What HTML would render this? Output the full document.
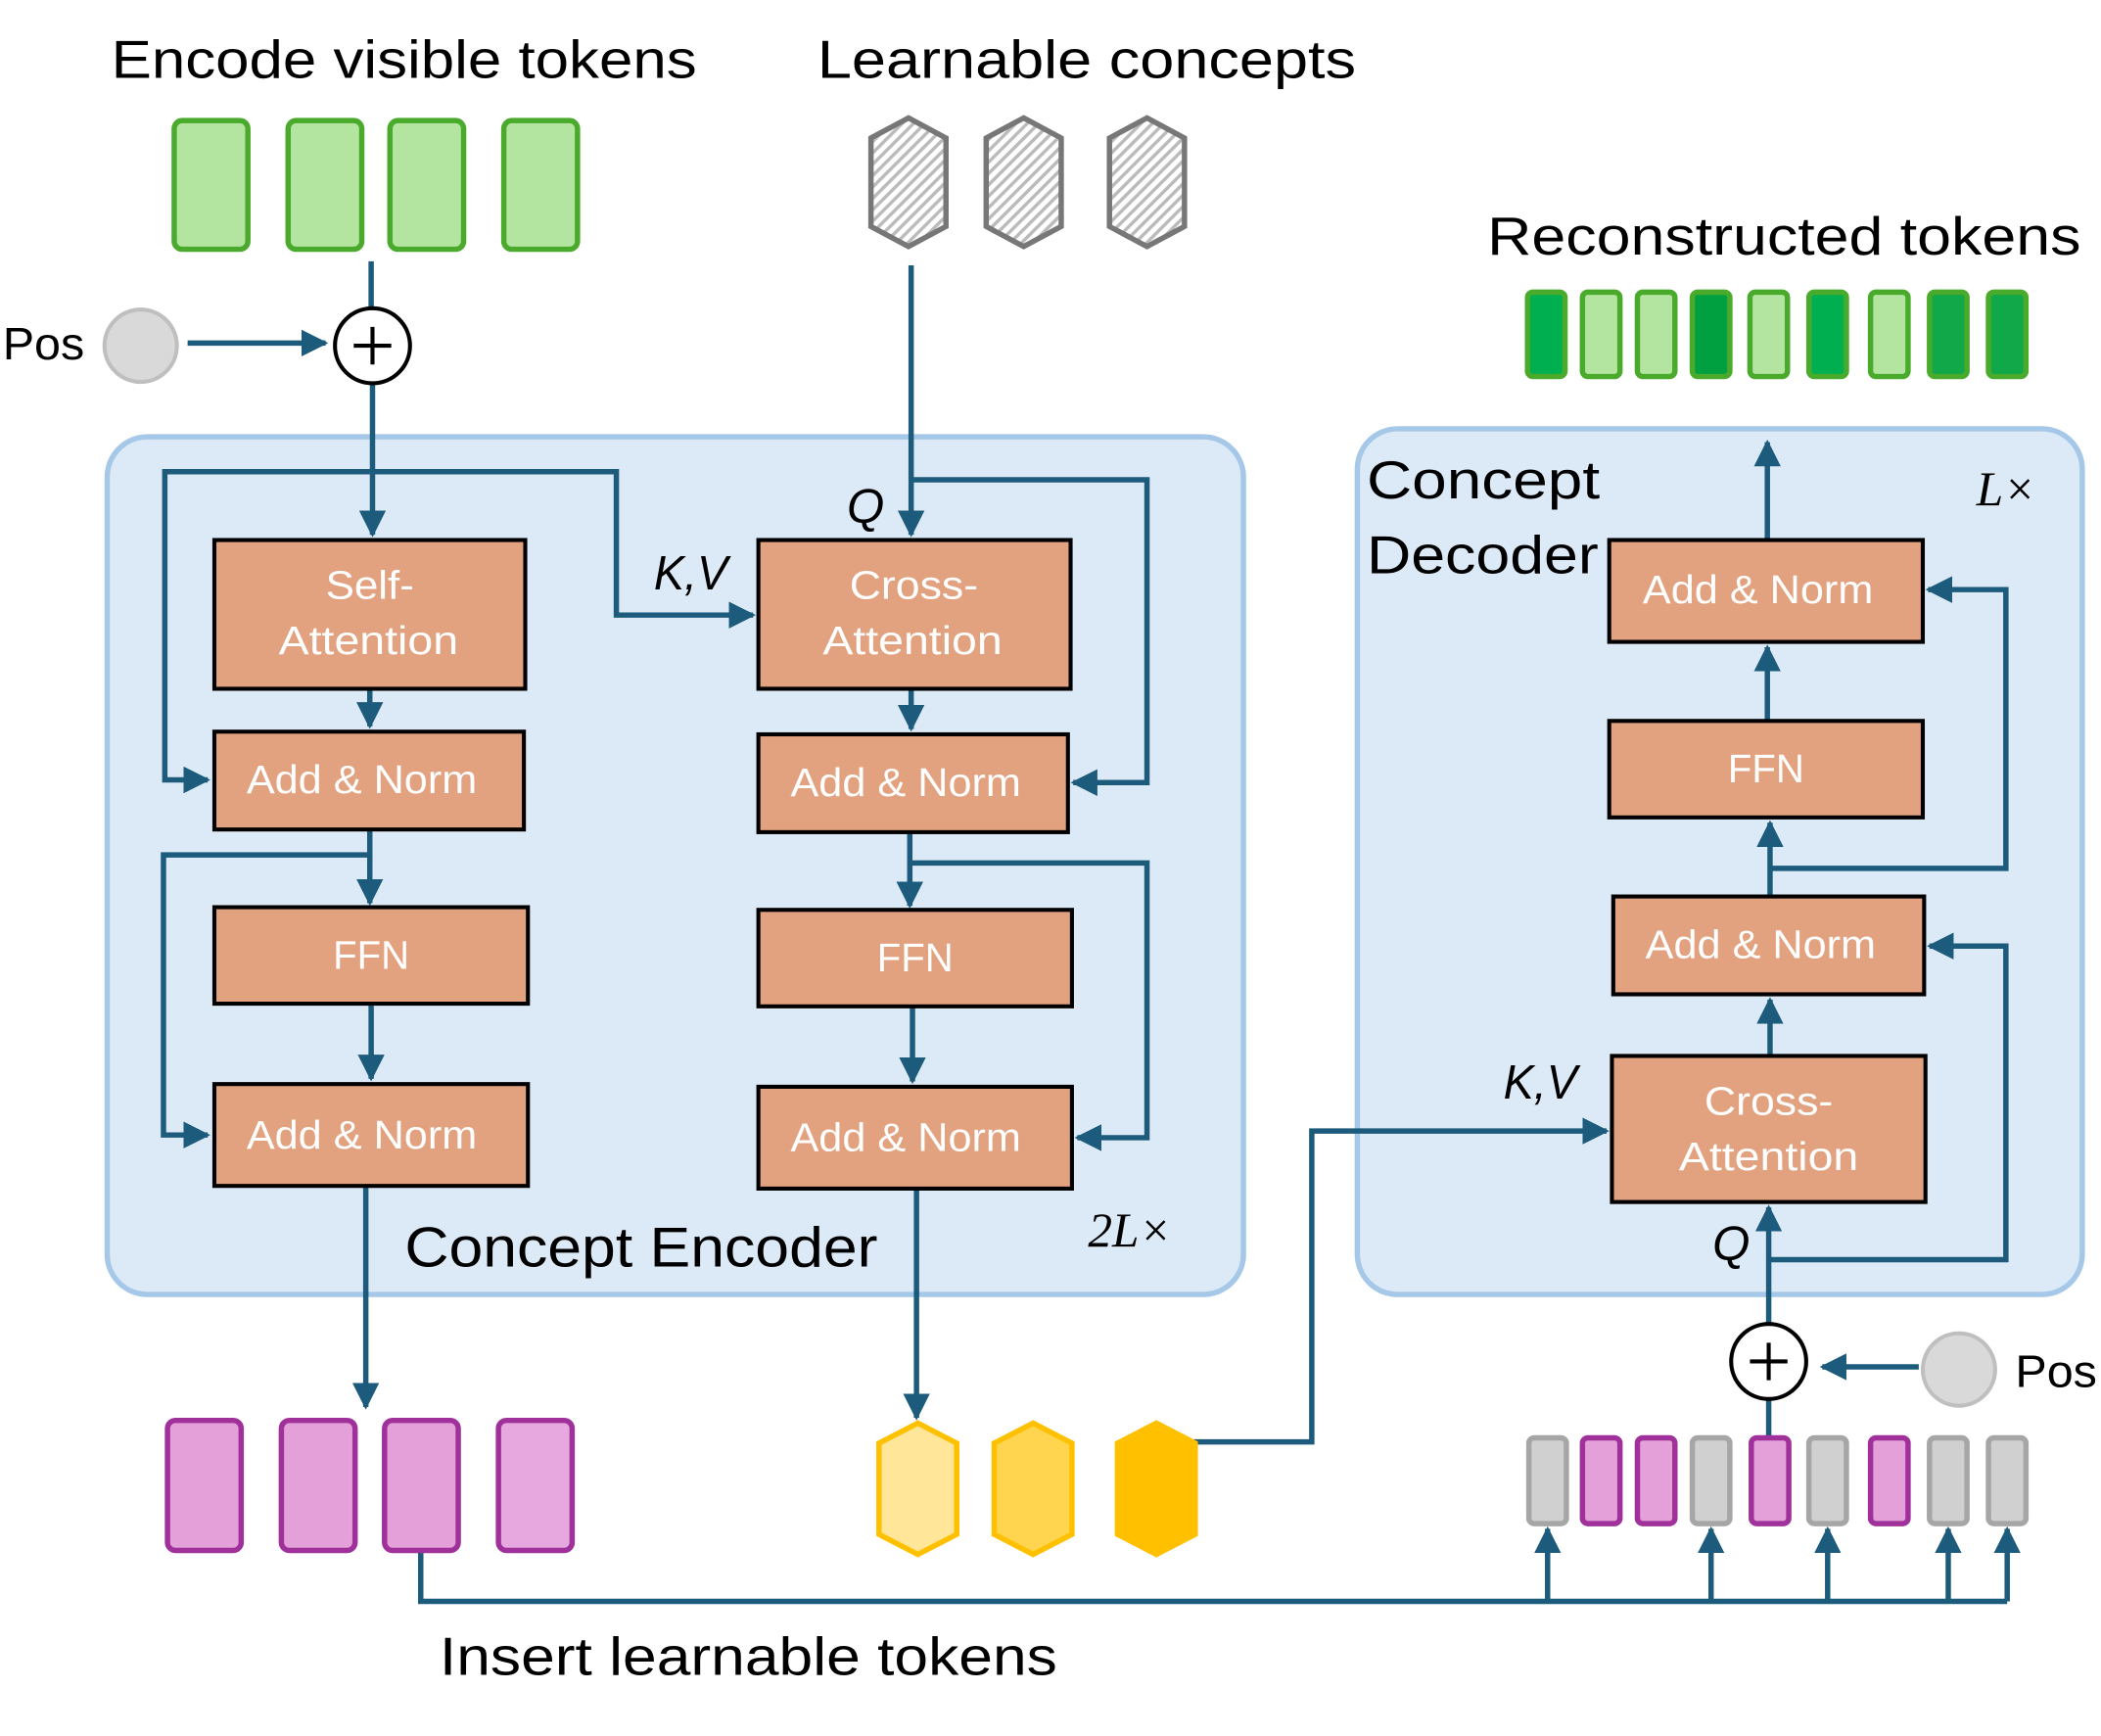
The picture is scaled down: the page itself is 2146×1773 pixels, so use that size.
<!DOCTYPE html>
<html><head><meta charset="utf-8"><style>
html,body{margin:0;padding:0;background:#fff;}
svg{display:block}
text{font-family:"Liberation Sans","DejaVu Sans",sans-serif;}
.bt{fill:#fff;font-size:30px;text-anchor:middle;}
.ob{fill:#e3a27f;stroke:#000;stroke-width:3;}
.ln{fill:none;stroke:#1c5b7b;stroke-width:4;}
.it{font-family:"Liberation Serif",serif;font-style:italic;font-size:36px;fill:#000;}
.is{font-family:"Liberation Sans",sans-serif;font-style:italic;font-size:36px;fill:#000;}
</style></head><body>
<svg width="2146" height="1773" viewBox="0 0 1568 1295.5" preserveAspectRatio="none" xmlns="http://www.w3.org/2000/svg">
<defs>
<marker id="a" viewBox="0 0 10 10" refX="9" refY="5" markerWidth="5" markerHeight="5" orient="auto-start-reverse"><path d="M0,0 L10,5 L0,10 z" fill="#1c5b7b"/></marker>
<pattern id="h" width="6" height="6" patternUnits="userSpaceOnUse" patternTransform="rotate(45)"><rect width="6" height="6" fill="#fff"/><rect width="2.5" height="6" fill="#bbb"/></pattern>
</defs>
<rect width="1568" height="1296" fill="#fff"/>
<text x="83" y="58" font-size="40" textLength="437" lengthAdjust="spacingAndGlyphs">Encode visible tokens</text>
<text x="610" y="58" font-size="40" textLength="402" lengthAdjust="spacingAndGlyphs">Learnable concepts</text>
<text x="1110" y="190" font-size="40" textLength="443" lengthAdjust="spacingAndGlyphs">Reconstructed tokens</text>
<g fill="#b3e5a0" stroke="#4aaa2c" stroke-width="4">
<rect x="130" y="90" width="55" height="96" rx="6"/><rect x="215" y="90" width="55" height="96" rx="6"/><rect x="291" y="90" width="55" height="96" rx="6"/><rect x="376" y="90" width="55" height="96" rx="6"/>
</g>
<g fill="url(#h)" stroke="#777" stroke-width="4">
<polygon points="678,88 706,103 706,169 678,184 650,169 650,103"/>
<polygon points="764,88 792,103 792,169 764,184 736,169 736,103"/>
<polygon points="856,88 884,103 884,169 856,184 828,169 828,103"/>
</g>
<g stroke="#4aaa2c" stroke-width="4">
<rect x="1140" y="218" width="28" height="63" rx="4" fill="#00b050"/>
<rect x="1181" y="218" width="28" height="63" rx="4" fill="#b3e5a0"/>
<rect x="1222" y="218" width="28" height="63" rx="4" fill="#b3e5a0"/>
<rect x="1263" y="218" width="28" height="63" rx="4" fill="#00a040"/>
<rect x="1306" y="218" width="28" height="63" rx="4" fill="#b3e5a0"/>
<rect x="1350" y="218" width="28" height="63" rx="4" fill="#00b050"/>
<rect x="1396" y="218" width="28" height="63" rx="4" fill="#b3e5a0"/>
<rect x="1440" y="218" width="28" height="63" rx="4" fill="#10a848"/>
<rect x="1484" y="218" width="28" height="63" rx="4" fill="#10a848"/>
</g>
<text x="2" y="268" font-size="34" textLength="61" lengthAdjust="spacingAndGlyphs">Pos</text>
<circle cx="105" cy="258" r="27" fill="#d9d9d9" stroke="#bfbfbf" stroke-width="3"/>
<rect x="80" y="326" width="848" height="640" rx="30" fill="#dce9f6" stroke="#a6c8e8" stroke-width="4"/>
<rect x="1013" y="320" width="541" height="646" rx="30" fill="#dce9f6" stroke="#a6c8e8" stroke-width="4"/>
<path class="ln" d="M140,256 H243" marker-end="url(#a)"/>
<path class="ln" d="M277,195 V230"/>
<path class="ln" d="M278,286 V399" marker-end="url(#a)"/>
<path class="ln" d="M278,352 H123 V582 H155" marker-end="url(#a)"/>
<path class="ln" d="M278,352 H460 V459 H562" marker-end="url(#a)"/>
<path class="ln" d="M276,514 V542" marker-end="url(#a)"/>
<path class="ln" d="M276,619 V674" marker-end="url(#a)"/>
<path class="ln" d="M276,638 H122 V847 H155" marker-end="url(#a)"/>
<path class="ln" d="M277,749 V805" marker-end="url(#a)"/>
<path class="ln" d="M273,885 V1050" marker-end="url(#a)"/>
<path class="ln" d="M680,198 V399" marker-end="url(#a)"/>
<path class="ln" d="M680,358 H856 V584 H801" marker-end="url(#a)"/>
<path class="ln" d="M680,514 V544" marker-end="url(#a)"/>
<path class="ln" d="M679,621 V676" marker-end="url(#a)"/>
<path class="ln" d="M679,644 H856 V849 H804" marker-end="url(#a)"/>
<path class="ln" d="M681,751 V807" marker-end="url(#a)"/>
<path class="ln" d="M684,887 V1058" marker-end="url(#a)"/>
<path class="ln" d="M891,1076 H979 V844 H1199" marker-end="url(#a)"/>
<path class="ln" d="M314,1157 V1195 H1498"/>
<path class="ln" d="M1155,1195 V1141" marker-end="url(#a)"/>
<path class="ln" d="M1277,1195 V1141" marker-end="url(#a)"/>
<path class="ln" d="M1364,1195 V1141" marker-end="url(#a)"/>
<path class="ln" d="M1454,1195 V1141" marker-end="url(#a)"/>
<path class="ln" d="M1498,1195 V1141" marker-end="url(#a)"/>
<path class="ln" d="M1432,1020 H1360" marker-end="url(#a)"/>
<path class="ln" d="M1320,1073 V1044"/>
<path class="ln" d="M1320,988 V901" marker-end="url(#a)"/>
<path class="ln" d="M1320,940 H1497 V706 H1440" marker-end="url(#a)"/>
<path class="ln" d="M1321,788 V746" marker-end="url(#a)"/>
<path class="ln" d="M1321,669 V614" marker-end="url(#a)"/>
<path class="ln" d="M1321,648 H1497 V440 H1439" marker-end="url(#a)"/>
<path class="ln" d="M1319,538 V483" marker-end="url(#a)"/>
<path class="ln" d="M1319,403 V330" marker-end="url(#a)"/>
<circle cx="278" cy="258" r="28" fill="#fff" stroke="#000" stroke-width="3"/>
<path d="M264,258 H292 M278,244 V272" stroke="#000" stroke-width="3"/>
<rect class="ob" x="160" y="403" width="232" height="111"/>
<text class="bt" x="276" y="447" textLength="66" lengthAdjust="spacingAndGlyphs">Self-</text><text class="bt" x="275" y="488" textLength="134" lengthAdjust="spacingAndGlyphs">Attention</text>
<rect class="ob" x="160" y="546" width="231" height="73"/><text class="bt" x="270" y="592" textLength="172" lengthAdjust="spacingAndGlyphs">Add &amp; Norm</text>
<rect class="ob" x="160" y="677" width="234" height="72"/><text class="bt" x="277" y="723" textLength="57" lengthAdjust="spacingAndGlyphs">FFN</text>
<rect class="ob" x="160" y="809" width="234" height="76"/><text class="bt" x="270" y="857" textLength="172" lengthAdjust="spacingAndGlyphs">Add &amp; Norm</text>
<rect class="ob" x="566" y="403" width="233" height="111"/>
<text class="bt" x="682" y="447" textLength="96" lengthAdjust="spacingAndGlyphs">Cross-</text><text class="bt" x="681" y="488" textLength="134" lengthAdjust="spacingAndGlyphs">Attention</text>
<rect class="ob" x="566" y="548" width="231" height="73"/><text class="bt" x="676" y="594" textLength="172" lengthAdjust="spacingAndGlyphs">Add &amp; Norm</text>
<rect class="ob" x="566" y="679" width="234" height="72"/><text class="bt" x="683" y="725" textLength="57" lengthAdjust="spacingAndGlyphs">FFN</text>
<rect class="ob" x="566" y="811" width="234" height="76"/><text class="bt" x="676" y="859" textLength="172" lengthAdjust="spacingAndGlyphs">Add &amp; Norm</text>
<rect class="ob" x="1201" y="403" width="234" height="76"/><text class="bt" x="1312" y="450" textLength="172" lengthAdjust="spacingAndGlyphs">Add &amp; Norm</text>
<rect class="ob" x="1201" y="538" width="234" height="72"/><text class="bt" x="1318" y="584" textLength="57" lengthAdjust="spacingAndGlyphs">FFN</text>
<rect class="ob" x="1204" y="669" width="232" height="73"/><text class="bt" x="1314" y="715" textLength="172" lengthAdjust="spacingAndGlyphs">Add &amp; Norm</text>
<rect class="ob" x="1203" y="788" width="234" height="109"/>
<text class="bt" x="1320" y="832" textLength="96" lengthAdjust="spacingAndGlyphs">Cross-</text><text class="bt" x="1320" y="873" textLength="134" lengthAdjust="spacingAndGlyphs">Attention</text>
<text class="is" x="488" y="440" textLength="55" lengthAdjust="spacingAndGlyphs">K,V</text>
<text class="is" x="632" y="390">Q</text>
<text class="is" x="1122" y="820" textLength="55" lengthAdjust="spacingAndGlyphs">K,V</text>
<text class="is" x="1278" y="940">Q</text>
<text class="it" x="812" y="930" font-size="32">2L×</text>
<text class="it" x="1475" y="377" font-size="32">L×</text>
<text x="1020" y="372" font-size="40" textLength="174" lengthAdjust="spacingAndGlyphs">Concept</text>
<text x="1020" y="428" font-size="40" textLength="173" lengthAdjust="spacingAndGlyphs">Decoder</text>
<text x="302" y="945" font-size="42" textLength="353" lengthAdjust="spacingAndGlyphs">Concept Encoder</text>
<text x="328" y="1250" font-size="40" textLength="461" lengthAdjust="spacingAndGlyphs">Insert learnable tokens</text>
<g fill="#e3a0d9" stroke="#a0309a" stroke-width="4">
<rect x="125" y="1060" width="55" height="97" rx="6"/><rect x="210" y="1060" width="55" height="97" rx="6"/><rect x="287" y="1060" width="55" height="97" rx="6"/><rect x="372" y="1060" width="55" height="97" rx="6" fill="#e6a8de"/>
</g>
<g stroke="#ffc000" stroke-width="4">
<polygon points="685,1062 714,1077 714,1145 685,1160 656,1145 656,1077" fill="#ffe699"/>
<polygon points="771,1062 800,1077 800,1145 771,1160 742,1145 742,1077" fill="#ffd54f"/>
<polygon points="863,1062 892,1077 892,1145 863,1160 834,1145 834,1077" fill="#ffc000"/>
</g>
<g stroke-width="4">
<rect x="1141" y="1073" width="28" height="64" rx="4" fill="#d0d0d0" stroke="#a6a6a6"/>
<rect x="1181" y="1073" width="28" height="64" rx="4" fill="#e3a0d9" stroke="#a0309a"/>
<rect x="1222" y="1073" width="28" height="64" rx="4" fill="#e3a0d9" stroke="#a0309a"/>
<rect x="1263" y="1073" width="28" height="64" rx="4" fill="#d0d0d0" stroke="#a6a6a6"/>
<rect x="1307" y="1073" width="28" height="64" rx="4" fill="#e3a0d9" stroke="#a0309a"/>
<rect x="1350" y="1073" width="28" height="64" rx="4" fill="#d0d0d0" stroke="#a6a6a6"/>
<rect x="1396" y="1073" width="28" height="64" rx="4" fill="#e3a0d9" stroke="#a0309a"/>
<rect x="1440" y="1073" width="28" height="64" rx="4" fill="#d0d0d0" stroke="#a6a6a6"/>
<rect x="1484" y="1073" width="28" height="64" rx="4" fill="#d0d0d0" stroke="#a6a6a6"/>
</g>
<circle cx="1320" cy="1016" r="28" fill="#fff" stroke="#000" stroke-width="3"/>
<path d="M1306,1016 H1334 M1320,1002 V1030" stroke="#000" stroke-width="3"/>
<circle cx="1462" cy="1022" r="27" fill="#d9d9d9" stroke="#bfbfbf" stroke-width="3"/>
<text x="1504" y="1035" font-size="34" textLength="61" lengthAdjust="spacingAndGlyphs">Pos</text>
</svg>
</body></html>
